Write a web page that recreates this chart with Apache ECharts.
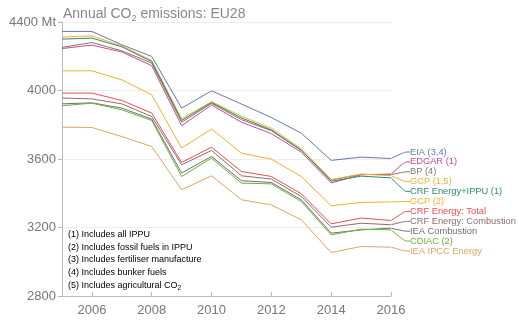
<!DOCTYPE html>
<html><head><meta charset="utf-8">
<script src="https://cdn.jsdelivr.net/npm/echarts@6/dist/echarts.min.js"></script>
<style>html,body{margin:0;padding:0;background:#fff}#c{width:519px;height:324px}</style>
</head><body><div id="c"></div>
<script>
const years = ['2005','2006','2007','2008','2009','2010','2011','2012','2013','2014','2015','2016'];
const yTicks = [2800, 3200, 3600, 4000, 4400];

const names = ['EIA (3,4)','EDGAR (1)','BP (4)','GCP (1,5)','CRF Energy+IPPU (1)','GCP (2)','CRF Energy: Total','CRF Energy: Combustion','IEA Combustion','CDIAC (2)','IEA IPCC Energy'];
const colors = ['#6677aa','#c8489a','#8a7466','#f0b030','#2e8a6a','#f0b030','#e8504a','#926a72','#6e6e6e','#6ab33a','#e2a464'];

const eia      = [4345,4345,4267,4199,3897,3998,3921,3842,3751,3592,3611,3603];
const edgar    = [4245,4265,4225,4145,3795,3915,3815,3748,3640,3460,3508,3512];
const bp       = [4252,4280,4232,4160,3815,3925,3830,3765,3650,3478,3510,3508];
const gcp15    = [4312,4319,4261,4175,3835,3935,3850,3780,3660,3480,3512,3503];
const crfIppu  = [4300,4306,4255,4169,3825,3930,3840,3770,3652,3470,3500,3490];
const gcp2     = [4115,4115,4062,3975,3664,3775,3634,3599,3498,3327,3346,3350];
const crfTotal = [3985,3985,3942,3868,3580,3669,3527,3498,3397,3221,3255,3241];
const crfComb  = [3956,3951,3922,3848,3566,3650,3502,3483,3381,3202,3225,3216];
const ieaComb  = [3922,3928,3897,3833,3518,3615,3473,3463,3362,3167,3186,3196];
const cdiac    = [3911,3926,3887,3825,3498,3605,3459,3455,3352,3157,3190,3186];
const ieaIpcc  = [3786,3784,3731,3673,3420,3502,3362,3332,3245,3054,3089,3085];

const allData = [eia, edgar, bp, gcp15, crfIppu, gcp2, crfTotal, crfComb, ieaComb, cdiac, ieaIpcc];

const font = '"Liberation Sans", Arial, sans-serif';

const series = allData.map((d, i) => ({
  type: 'line',
  name: names[i],
  symbol: 'circle',
  symbolSize: 1,
  showSymbol: true,
  itemStyle: { color: 'rgba(0,0,0,0)' },
  lineStyle: { color: colors[i], width: 1 },
  emphasis: { disabled: true },
  label: { show: false },
  labelLine: { show: true, smooth: true, length2: 5, minTurnAngle: 0, lineStyle: { color: colors[i], width: 1 } },
  data: d.map((v, j) => j === d.length - 1
    ? { value: v, label: { show: true, position: 'right', formatter: names[i], color: colors[i], fontSize: 9.3, fontFamily: font } }
    : v)
}));

const chart = echarts.init(document.getElementById('c'), null, { renderer: 'canvas' });
chart.setOption({
  animation: false,
  backgroundColor: '#fff',
  title: {
    text: '{a|Annual CO}{s|2}{a| emissions: EU28}',
    left: 58, top: 1,
    textStyle: {
      fontWeight: 'normal',
      rich: {
        a: { fontSize: 14, color: '#888', fontFamily: font, fontWeight: 'normal' },
        s: { fontSize: 9, color: '#888', fontFamily: font, fontWeight: 'normal', verticalAlign: 'bottom', padding: [8, 0, 0, 0] }
      }
    }
  },
  grid: { left: 62, right: 128, top: 22, bottom: 28, containLabel: false },
  xAxis: {
    type: 'category', data: years, boundaryGap: false,
    axisLine: { lineStyle: { color: '#bbb' } },
    axisTick: { inside: true, length: 4, interval: (i) => i % 2 === 1, lineStyle: { color: '#bbb' } },
    axisLabel: { interval: (i) => i % 2 === 1, color: '#777', fontSize: 13, fontFamily: font, margin: 8 },
    splitLine: { show: false }
  },
  yAxis: {
    type: 'value', min: yTicks[0], max: yTicks[yTicks.length - 1], interval: 400,
    axisLine: { show: true, lineStyle: { color: '#bbb' } },
    axisTick: { show: true, length: 4, lineStyle: { color: '#bbb' } },
    axisLabel: { color: '#777', fontSize: 13, fontFamily: font, margin: 6,
      formatter: (v) => v === 4400 ? '4400 Mt' : String(v) },
    splitLine: { lineStyle: { color: '#eee' } }
  },
  labelLayout: function (p) {
    return { x: 410, y: 152 + p.seriesIndex * 9.9, align: 'left', verticalAlign: 'middle' };
  },
  graphic: [{
    type: 'text', left: 68, top: 230,
    style: {
      text: '{t|(1) Includes all IPPU}\n{t|(2) Includes fossil fuels in IPPU}\n{t|(3) Includes fertiliser manufacture}\n{t|(4) Includes bunker fuels}\n{t|(5) Includes agricultural CO}{s|2}',
      rich: {
        t: { fontSize: 9, color: '#888', fontFamily: font, lineHeight: 12.7 },
        s: { fontSize: 6.5, color: '#888', fontFamily: font, lineHeight: 12.7, padding: [5, 0, 0, 0] }
      }
    }
  }],
  series: series
});
</script></body></html>
